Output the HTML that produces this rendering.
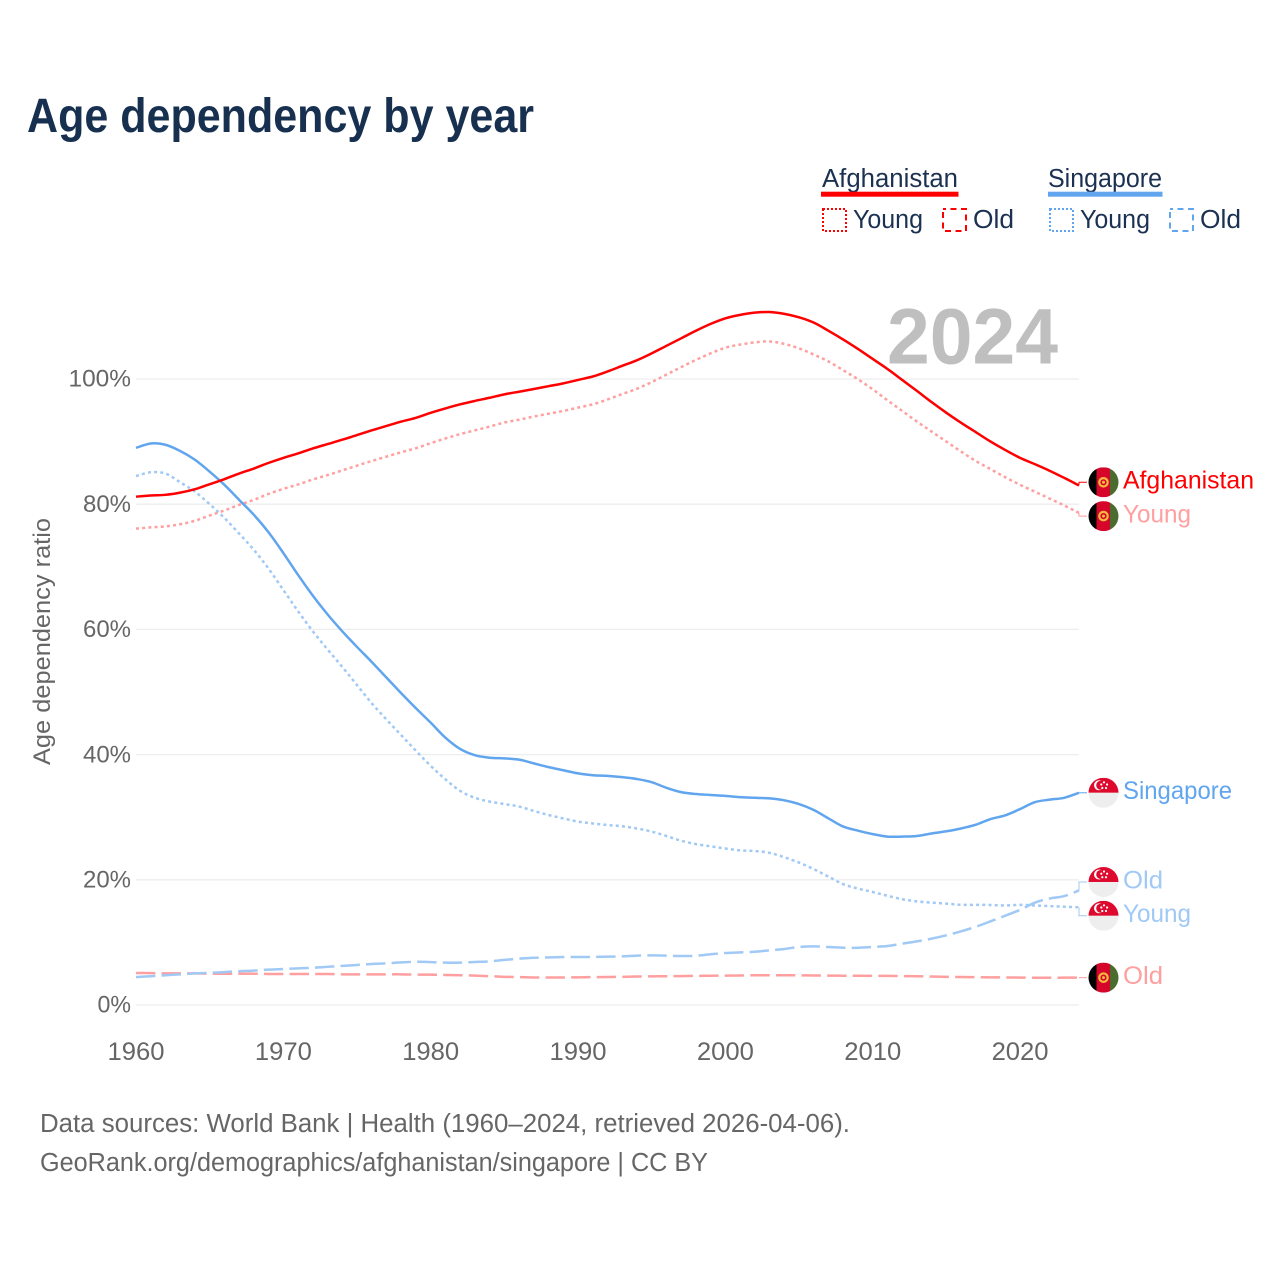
<!DOCTYPE html>
<html lang="en">
<head>
<meta charset="utf-8">
<title>Age dependency by year</title>
<style>
html,body{margin:0;padding:0;background:#fff;width:1280px;height:1280px;overflow:hidden}
svg{display:block;font-family:"Liberation Sans",sans-serif}
</style>
</head>
<body>
<svg id="chart" xmlns="http://www.w3.org/2000/svg" width="1280" height="1280" viewBox="0 0 1280 1280">
  <defs>
    <clipPath id="flag-clip"><circle cx="0" cy="0" r="15"/></clipPath>
    <g id="flag-af" clip-path="url(#flag-clip)">
      <rect x="-15" y="-15" width="8" height="30" fill="#000"/>
      <rect x="-7" y="-15" width="13.5" height="30" fill="#d6062b"/>
      <rect x="6.5" y="-15" width="8.5" height="30" fill="#4c6b2f"/>
      <circle cx="0" cy="0" r="4.2" fill="none" stroke="#f5b93e" stroke-width="2.2"/>
      <circle cx="0" cy="0" r="1.5" fill="#f5b93e"/>
    </g>
    <g id="flag-sg" clip-path="url(#flag-clip)">
      <rect x="-15" y="-15" width="30" height="15" fill="#dd0a2e"/>
      <rect x="-15" y="0" width="30" height="15" fill="#eeeeee"/>
      <circle cx="-4.5" cy="-7.5" r="5" fill="#fff"/>
      <circle cx="-2.8" cy="-7.5" r="4.5" fill="#dd0a2e"/>
      <circle cx="0.5" cy="-10.5" r="1.1" fill="#fff"/>
      <circle cx="3.6" cy="-8.3" r="1.1" fill="#fff"/>
      <circle cx="2.5" cy="-4.8" r="1.1" fill="#fff"/>
      <circle cx="-1.2" cy="-4.8" r="1.1" fill="#fff"/>
      <circle cx="-2.2" cy="-8.3" r="1.1" fill="#fff"/>
    </g>
  </defs>

  <text x="27" y="132" font-size="48" font-weight="bold" fill="#18304f" textLength="507" lengthAdjust="spacingAndGlyphs">Age dependency by year</text>

  <g font-size="25.5" fill="#1b3152">
    <g>
      <text x="822" y="187" textLength="136" lengthAdjust="spacingAndGlyphs">Afghanistan</text>
      <rect x="821" y="191.7" width="137.5" height="5" fill="#ff0000"/>
      <rect x="823" y="209" width="23" height="22" fill="none" stroke="#ff0000" stroke-width="2" stroke-dasharray="2 2"/>
      <text x="853" y="228" textLength="70" lengthAdjust="spacingAndGlyphs">Young</text>
      <rect x="943" y="209" width="23" height="22" fill="none" stroke="#ff0000" stroke-width="2" stroke-dasharray="6 4.5" stroke-dashoffset="3"/>
      <text x="973" y="228" textLength="41" lengthAdjust="spacingAndGlyphs">Old</text>
    </g>
    <g>
      <text x="1048" y="187" textLength="114" lengthAdjust="spacingAndGlyphs">Singapore</text>
      <rect x="1048" y="191.7" width="114.5" height="5" fill="#60a5ee"/>
      <rect x="1050" y="209" width="23" height="22" fill="none" stroke="#60a5ee" stroke-width="2" stroke-dasharray="2 2"/>
      <text x="1080" y="228" textLength="70" lengthAdjust="spacingAndGlyphs">Young</text>
      <rect x="1170" y="209" width="23" height="22" fill="none" stroke="#60a5ee" stroke-width="2" stroke-dasharray="6 4.5" stroke-dashoffset="3"/>
      <text x="1200" y="228" textLength="41" lengthAdjust="spacingAndGlyphs">Old</text>
    </g>
  </g>

  <g id="grid"></g>
  <text x="887" y="363.5" font-size="79" font-weight="bold" fill="#bfbfbf" textLength="171" lengthAdjust="spacingAndGlyphs">2024</text>
  <g id="y-ticks" font-size="24" fill="#666666"></g>
  <g id="x-ticks" font-size="25" fill="#666666"></g>
  <text transform="translate(50,641.5) rotate(-90)" text-anchor="middle" font-size="24.5" fill="#666666" textLength="247" lengthAdjust="spacingAndGlyphs">Age dependency ratio</text>
  <g id="series" fill="none"></g>
  <g id="end-labels" font-size="25"></g>

  <text x="40" y="1132" font-size="25.5" fill="#666666" textLength="810" lengthAdjust="spacingAndGlyphs">Data sources: World Bank | Health (1960–2024, retrieved 2026-04-06).</text>
  <text x="40" y="1171" font-size="25.5" fill="#666666" textLength="668" lengthAdjust="spacingAndGlyphs">GeoRank.org/demographics/afghanistan/singapore | CC BY</text>
</svg>

<script>
const startYear = 1960;
const xTickYears = [1960, 1970, 1980, 1990, 2000, 2010, 2020];
const yTickValues = [0, 20, 40, 60, 80, 100];

const afghanistanTotal = [81.2,81.4,81.5,81.85,82.4,83.2,84.0,84.9,85.7,86.6,87.4,88.1,88.9,89.6,90.3,91.05,91.8,92.5,93.2,93.8,94.6,95.3,95.95,96.5,97.0,97.55,97.97,98.4,98.85,99.3,99.85,100.4,101.2,102.1,103.0,104.1,105.3,106.5,107.7,108.8,109.7,110.25,110.6,110.7,110.4,109.85,109.0,107.7,106.3,104.8,103.2,101.6,99.85,98.1,96.3,94.6,93.0,91.5,90.0,88.65,87.4,86.4,85.35,84.2,83.0];
const afghanistanYoung = [76.1,76.3,76.45,76.8,77.35,78.2,79.0,79.9,80.7,81.65,82.45,83.15,83.95,84.65,85.4,86.15,86.9,87.6,88.3,88.95,89.75,90.5,91.2,91.8,92.4,93.05,93.5,94.0,94.45,94.9,95.43,95.95,96.73,97.6,98.45,99.5,100.7,101.9,103.05,104.1,105.0,105.5,105.85,106.0,105.6,104.9,103.9,102.8,101.4,99.95,98.35,96.6,94.9,93.2,91.6,90.0,88.4,86.9,85.6,84.3,83.1,82.0,80.9,79.8,78.6];
const afghanistanOld = [5.1,5.1,5.05,5.05,5.05,5.0,5.0,5.0,5.0,4.95,4.95,4.95,4.95,4.95,4.9,4.9,4.9,4.9,4.9,4.85,4.85,4.8,4.75,4.7,4.6,4.5,4.45,4.4,4.4,4.4,4.42,4.45,4.47,4.5,4.55,4.58,4.6,4.62,4.65,4.68,4.7,4.72,4.75,4.76,4.76,4.74,4.72,4.7,4.68,4.67,4.66,4.65,4.62,4.6,4.55,4.5,4.47,4.45,4.42,4.4,4.38,4.35,4.35,4.37,4.37];
const singaporeTotal = [89.0,89.7,89.5,88.5,87.1,85.2,83.1,80.7,78.3,75.5,72.2,68.7,65.4,62.4,59.7,57.2,54.8,52.3,49.8,47.4,45.1,42.7,40.9,39.9,39.5,39.4,39.2,38.6,38.0,37.5,37.0,36.7,36.6,36.4,36.1,35.6,34.7,34.0,33.7,33.55,33.4,33.2,33.1,33.0,32.7,32.1,31.15,29.8,28.5,27.85,27.3,26.9,26.9,27.0,27.4,27.75,28.2,28.8,29.7,30.3,31.3,32.4,32.8,33.1,33.9];
const singaporeYoung = [84.5,85.1,84.9,83.5,82.0,80.0,77.8,75.3,72.7,69.7,66.3,62.9,59.7,56.8,54.0,51.1,48.2,45.6,43.1,40.6,38.2,36.05,34.2,33.1,32.5,32.1,31.7,31.0,30.35,29.8,29.3,29.0,28.75,28.55,28.2,27.7,27.0,26.25,25.7,25.35,25.0,24.7,24.6,24.3,23.6,22.75,21.7,20.5,19.3,18.6,18.05,17.45,16.9,16.55,16.35,16.2,16.0,16.0,15.97,15.9,16.0,15.9,15.8,15.7,15.6];
const singaporeOld = [4.45,4.6,4.75,4.9,5.05,5.15,5.25,5.4,5.5,5.65,5.75,5.85,5.95,6.1,6.25,6.4,6.55,6.65,6.8,6.9,6.85,6.76,6.76,6.87,6.97,7.2,7.4,7.55,7.6,7.67,7.67,7.67,7.72,7.77,7.88,7.93,7.88,7.83,7.88,8.1,8.3,8.4,8.5,8.73,8.95,9.27,9.37,9.27,9.15,9.15,9.27,9.42,9.8,10.17,10.6,11.13,11.77,12.5,13.37,14.27,15.2,16.35,17.0,17.4,18.3];

const SVG_NS = 'http://www.w3.org/2000/svg';
const xScale = year => 136 + (year - startYear) * (1079 - 136) / 64;
const yScale = value => 1005 - value * 6.26;

function make(parent, tag, attrs, text) {
  const el = document.createElementNS(SVG_NS, tag);
  for (const key in attrs) el.setAttribute(key, attrs[key]);
  if (text !== undefined) el.textContent = text;
  parent.appendChild(el);
  return el;
}

// Smooth path through the scaled points (Catmull-Rom to cubic Bezier).
function smoothPath(values) {
  const pts = values.map((v, i) => [xScale(startYear + i), yScale(v)]);
  let d = 'M' + pts[0][0].toFixed(2) + ' ' + pts[0][1].toFixed(2);
  for (let i = 0; i < pts.length - 1; i++) {
    const p0 = pts[Math.max(i - 1, 0)], p1 = pts[i], p2 = pts[i + 1], p3 = pts[Math.min(i + 2, pts.length - 1)];
    const c1x = p1[0] + (p2[0] - p0[0]) / 6, c1y = p1[1] + (p2[1] - p0[1]) / 6;
    const c2x = p2[0] - (p3[0] - p1[0]) / 6, c2y = p2[1] - (p3[1] - p1[1]) / 6;
    d += ' C' + c1x.toFixed(2) + ' ' + c1y.toFixed(2) + ' ' + c2x.toFixed(2) + ' ' + c2y.toFixed(2) + ' ' + p2[0].toFixed(2) + ' ' + p2[1].toFixed(2);
  }
  return d;
}

const gridGroup = document.getElementById('grid');
const yTickGroup = document.getElementById('y-ticks');
yTickValues.forEach(value => {
  const y = yScale(value);
  const line = make(gridGroup, 'line', {x1: 136, x2: 1079, y1: y, y2: y, stroke: '#eeeeee', 'stroke-width': 1.3});
  
  
  const label = value + '%';
  const tick = make(yTickGroup, 'text', {x: 131, y: y + 7.7, 'text-anchor': 'end', textLength: String(value).length * 14.5 + 19, lengthAdjust: 'spacingAndGlyphs'}, label);
  
  
});

const xTickGroup = document.getElementById('x-ticks');
xTickYears.forEach(year => {
  const tick = make(xTickGroup, 'text', {x: xScale(year), y: 1060, 'text-anchor': 'middle', textLength: 57, lengthAdjust: 'spacingAndGlyphs'}, String(year));
  
  
});

const RED = '#ff0000', BLUE = '#60a5ee', LIGHT_RED = '#ff9f9f', LIGHT_BLUE = '#a0c9f5';
const DOT = '3 3.2', DASH = '19.4 6.2';
const seriesList = [
  {key: 'afghanistan-old', values: afghanistanOld, color: LIGHT_RED, dash: DASH, label: 'Old', flag: '#flag-af', width: 40},
  {key: 'singapore-old', values: singaporeOld, color: LIGHT_BLUE, dash: DASH, label: 'Old', flag: '#flag-sg', width: 40},
  {key: 'afghanistan-young', values: afghanistanYoung, color: LIGHT_RED, dash: DOT, label: 'Young', flag: '#flag-af', width: 68},
  {key: 'singapore-young', values: singaporeYoung, color: LIGHT_BLUE, dash: DOT, label: 'Young', flag: '#flag-sg', width: 68},
  {key: 'singapore-total', values: singaporeTotal, color: BLUE, dash: null, label: 'Singapore', flag: '#flag-sg', width: 109},
  {key: 'afghanistan-total', values: afghanistanTotal, color: RED, dash: null, label: 'Afghanistan', flag: '#flag-af', width: 131}
];

// Spread the end labels so that flags keep a minimum vertical gap.
function layoutLabels(list, gap) {
  const sorted = list.slice().sort((a, b) => a.endY - b.endY);
  let clusters = sorted.map(s => ({items: [s], sum: s.endY}));
  const top = c => c.sum / c.items.length - (c.items.length - 1) * gap / 2;
  const bottom = c => c.sum / c.items.length + (c.items.length - 1) * gap / 2;
  let merged = true;
  while (merged) {
    merged = false;
    for (let i = 0; i < clusters.length - 1; i++) {
      if (bottom(clusters[i]) + gap > top(clusters[i + 1])) {
        clusters[i].items = clusters[i].items.concat(clusters[i + 1].items);
        clusters[i].sum += clusters[i + 1].sum;
        clusters.splice(i + 1, 1);
        merged = true;
        break;
      }
    }
  }
  clusters.forEach(c => c.items.forEach((s, i) => { s.labelY = top(c) + i * gap; }));
}

const seriesGroup = document.getElementById('series');
const labelGroup = document.getElementById('end-labels');
seriesList.forEach(s => { s.endY = yScale(s.values[s.values.length - 1]); });
layoutLabels(seriesList, 33.8);

seriesList.forEach(s => {
  const attrs = {d: smoothPath(s.values), stroke: s.color, 'stroke-width': 2.5, 'stroke-linejoin': 'round'};
  if (s.dash) attrs['stroke-dasharray'] = s.dash;
  const line = make(seriesGroup, 'path', attrs);
  
  

  const leader = make(labelGroup, 'path', {d: 'M1079 ' + s.endY.toFixed(2) + ' V' + s.labelY.toFixed(2) + ' H1087', fill: 'none', stroke: s.color, 'stroke-width': 1});
  
  

  const flag = make(labelGroup, 'use', {href: s.flag, transform: 'translate(1103.5,' + s.labelY.toFixed(2) + ')'});
  
  

  const text = make(labelGroup, 'text', {x: 1123, y: (s.labelY + 6.4).toFixed(2), fill: s.color, textLength: s.width, lengthAdjust: 'spacingAndGlyphs'}, s.label);
  
  
});
</script>
</body>
</html>
